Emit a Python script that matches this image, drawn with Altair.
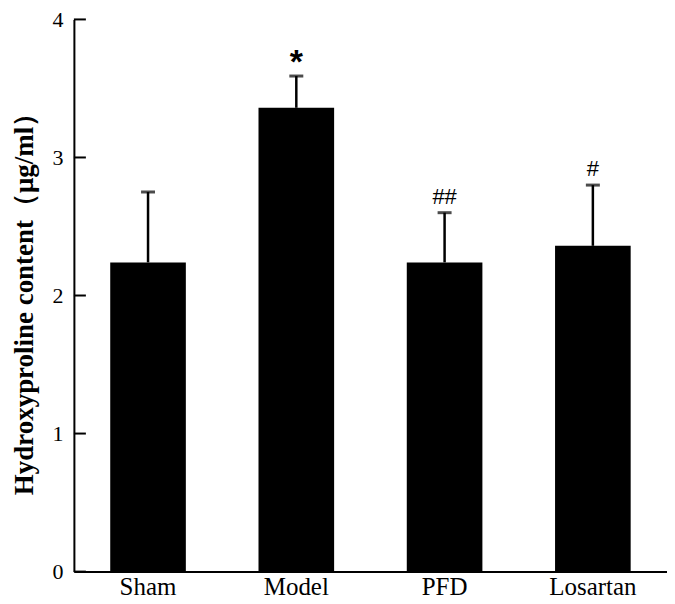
import altair as alt
import pandas as pd

groups = ["Sham", "Model", "PFD", "Losartan"]
means = [2.24, 3.36, 2.24, 2.36]
upper = [2.75, 3.59, 2.60, 2.80]
marks = ["", "*", "##", "#"]
y_ticks = [0, 1, 2, 3, 4]

df = pd.DataFrame({"group": groups, "mean": means, "upper": upper, "mark": marks})
tick_df = pd.DataFrame({"t": y_ticks})

FONT = "Liberation Serif"

x_enc = alt.X(
    "group:N",
    sort=groups,
    scale=alt.Scale(paddingInner=0.49, paddingOuter=0.245),
    axis=alt.Axis(
        title=None, labelAngle=0, ticks=False, grid=False, labelFont=FONT, labelFontSize=25,
        labelColor="black", labelPadding=3, domainColor="black", domainWidth=2,
    ),
)
y_scale = alt.Scale(domain=[0, 4], nice=False)
y_axis = alt.Axis(
    title="Hydroxyproline content（μg/ml）", values=y_ticks, format="d", ticks=False, grid=False,
    labelFont=FONT, labelFontSize=22, labelColor="black", labelPadding=11,
    domainColor="black", domainWidth=2,
    titleFont=FONT, titleFontSize=27, titleFontWeight="bold", titleColor="black",
    titleX=-49, titleY=278, titleBaseline="middle",
)

base = alt.Chart(df)

bars = base.mark_bar(color="black").encode(
    x=x_enc,
    y=alt.Y("mean:Q", scale=y_scale, axis=y_axis),
)

whisker = base.mark_rule(color="black", strokeWidth=2.5).encode(
    x=x_enc,
    y=alt.Y("mean:Q", scale=y_scale, axis=y_axis),
    y2="upper:Q",
)

caps = base.mark_tick(color="black", orient="horizontal", size=14, thickness=3).encode(
    x=x_enc,
    y=alt.Y("upper:Q", scale=y_scale, axis=y_axis),
)

hash_labels = base.transform_filter(alt.datum.mark != "*").mark_text(
    font="Liberation Sans", fontSize=22, color="black", baseline="bottom", dy=-4
).encode(
    x=x_enc,
    y=alt.Y("upper:Q", scale=y_scale, axis=y_axis),
    text="mark:N",
)

star_labels = base.transform_filter(alt.datum.mark == "*").mark_text(
    font="Liberation Sans", fontSize=34, fontWeight="bold", color="black", baseline="bottom", dy=4
).encode(
    x=x_enc,
    y=alt.Y("upper:Q", scale=y_scale, axis=y_axis),
    text="mark:N",
)

yticks = alt.Chart(tick_df).mark_rule(color="black", strokeWidth=2).encode(
    y=alt.Y("t:Q", scale=y_scale, axis=y_axis),
    x=alt.value(0),
    x2=alt.value(12),
)

chart = (
    alt.layer(bars, whisker, caps, hash_labels, star_labels, yticks)
    .properties(
        width=594,
        height=553,
        background="white",
        autosize=alt.AutoSizeParams(type="none"),
        padding={"left": 66, "top": 11, "right": 0, "bottom": 30},
    )
    .configure_view(strokeWidth=0, stroke="transparent")
    .configure_axis(grid=False)
)

chart.save("out.html", embed_options={"renderer": "svg", "actions": False})
